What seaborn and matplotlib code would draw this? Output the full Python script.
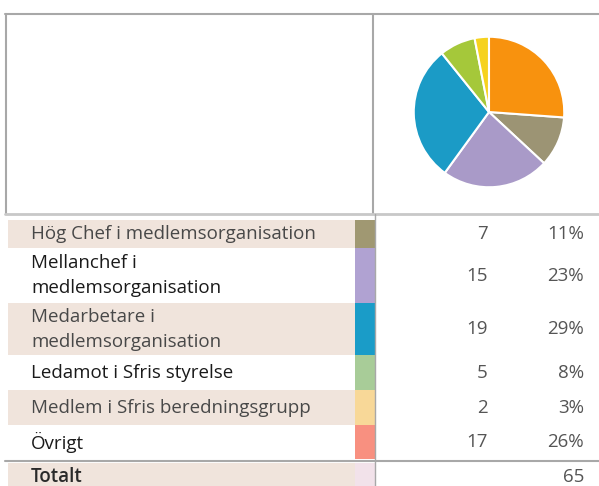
import matplotlib
matplotlib.use("Agg")
import matplotlib.pyplot as plt
from matplotlib.patches import Rectangle
import seaborn as sns

# Data from the table
categories = ['Hög Chef i medlemsorganisation',
              'Mellanchef i\nmedlemsorganisation',
              'Medarbetare i\nmedlemsorganisation',
              'Ledamot i Sfris styrelse',
              'Medlem i Sfris beredningsgrupp',
              'Övrigt']
counts = [7, 15, 19, 5, 2, 17]
total_label = 'Totalt'

pie_colors = ['#9c9474', '#a99ac8', '#1b9bc6', '#a5c83a', '#f6d21e', '#f8920e']
strip_colors = ['#a09872', '#b0a2d2', '#1a9cc8', '#a8cc98', '#f8d898', '#f89080']

total = sum(counts)
percents = [f'{round(c / total * 100)}%' for c in counts]

sns.set_theme(style="white")
plt.rcParams['font.family'] = ['Open Sans', 'DejaVu Sans']

fig = plt.figure(figsize=(5.99, 4.86), dpi=100)
ax = fig.add_axes([0, 0, 1, 1])
ax.set_xlim(0, 599)
ax.set_ylim(486, 0)
ax.axis('off')

shade = '#f0e4dc'
line_col = '#a8a8a8'

# top box with pie
ax.plot([5, 599], [14, 14], color=line_col, lw=1.5)
ax.plot([6, 6], [14, 214], color=line_col, lw=1.5)
ax.plot([373, 373], [14, 214], color=line_col, lw=1.5)
ax.plot([5, 599], [214, 214], color='#c8c8c8', lw=2)

# table rows
fs = 13.5
edges = [220, 248, 303, 355, 390, 425, 459]
for i, cat in enumerate(categories):
    y0, y1 = edges[i], edges[i + 1]
    yc = (y0 + y1) / 2
    if i % 2 == 0:
        ax.add_patch(Rectangle((8, y0), 347, y1 - y0, color=shade, lw=0))
        txt_col = '#484848'
    else:
        txt_col = '#1a1a1a'
    ax.add_patch(Rectangle((355, y0), 20, y1 - y0, color=strip_colors[i], lw=0))
    ax.text(31, yc, cat, ha='left', va='center', fontsize=fs,
            color=txt_col, linespacing=1.5)
    ax.text(488, yc, str(counts[i]), ha='right', va='center', fontsize=fs, color='#555555')
    ax.text(584, yc, percents[i], ha='right', va='center', fontsize=fs, color='#555555')

# total row
ax.plot([5, 599], [461, 461], color=line_col, lw=1.5)
ax.add_patch(Rectangle((8, 463), 347, 23, color=shade, lw=0))
ax.add_patch(Rectangle((355, 463), 20, 23, color='#f2e2ea', lw=0))
ax.text(31, 477, total_label, ha='left', va='center', fontsize=fs,
        color='#2a2a2a', fontweight='semibold')
ax.text(584, 477, str(total), ha='right', va='center', fontsize=fs, color='#555555')
ax.plot([375, 375], [214, 486], color=line_col, lw=1)

# pie
ax_pie = fig.add_axes([413 / 599, 1 - 188 / 486, 152 / 599, 152 / 486])
ax_pie.pie(counts, colors=pie_colors, startangle=90 - 360 * counts[-1] / total,
           counterclock=False, wedgeprops=dict(edgecolor='white', linewidth=1.5))
ax_pie.set_xlim(-1.01, 1.01)
ax_pie.set_ylim(-1.01, 1.01)
ax_pie.axis('off')

fig.savefig('out.png', dpi=100, facecolor='white')
